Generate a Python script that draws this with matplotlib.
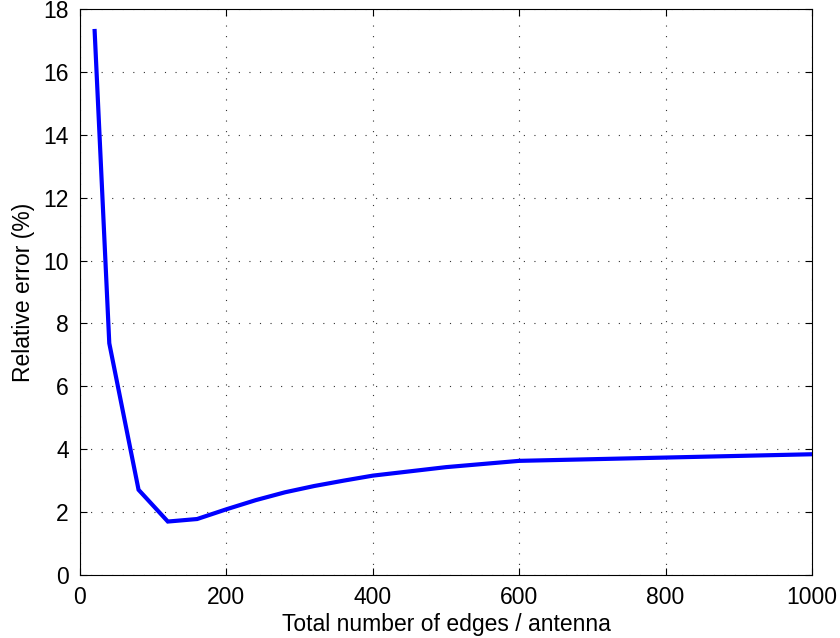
import matplotlib
matplotlib.use("Agg")
import matplotlib.pyplot as plt

edges = [20, 40, 80, 120, 160, 200, 240, 280, 320, 360, 400, 500, 600, 1000]
rel_error = [17.3, 7.37, 2.71, 1.70, 1.78, 2.09, 2.38, 2.63, 2.83, 3.0, 3.16, 3.43, 3.63, 3.84]
xticks = [0, 200, 400, 600, 800, 1000]
yticks = [0, 2, 4, 6, 8, 10, 12, 14, 16, 18]

plt.rcParams['font.family'] = ['Liberation Sans', 'DejaVu Sans']
fig = plt.figure(figsize=(8.4, 6.38), dpi=100)
ax = fig.add_axes([80/840, 1-575/638, (812-80)/840, (575-9)/638])
ax.plot(edges, rel_error, color='#0000ff', linewidth=3, solid_joinstyle='miter')
ax.set_xlim(0, 1000)
ax.set_ylim(0, 18)
ax.set_xticks(xticks)
ax.set_yticks(yticks)
ax.grid(True, color='#333333', linestyle=(0, (1, 8.5)), linewidth=0.8)
ax.tick_params(direction='in', labelsize=16.5, length=5, top=True, right=True)
ax.tick_params(axis='x', pad=8)
ax.tick_params(axis='y', pad=8)
for s in ax.spines.values():
    s.set_linewidth(0.8)
ax.set_xlabel('Total number of edges / antenna', fontsize=16.5, labelpad=3)
ax.set_ylabel('Relative error (%)', fontsize=16.5, labelpad=6)
fig.savefig('out.png', dpi=100)
